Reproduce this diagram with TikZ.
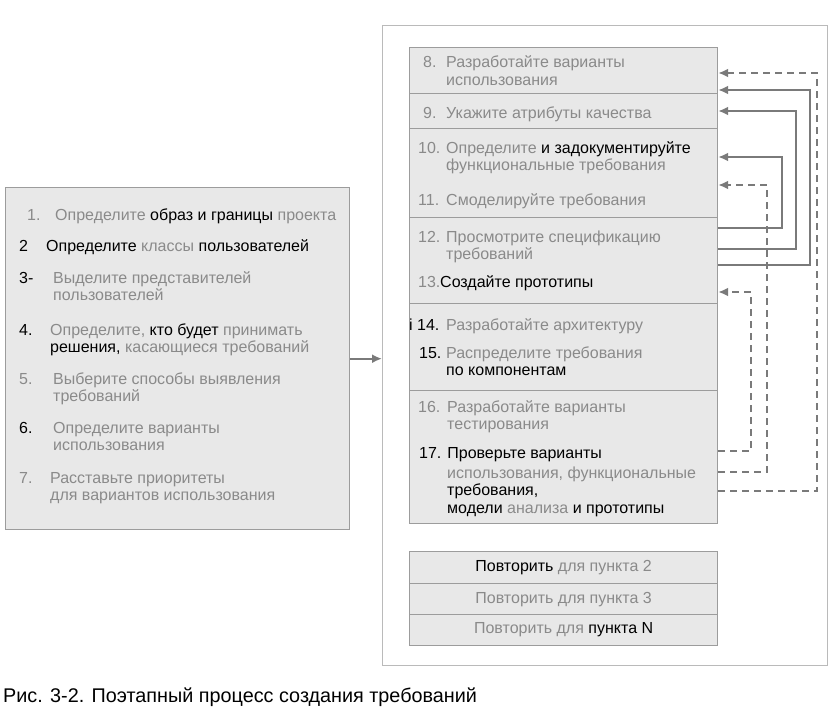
\documentclass[tikz,border=0pt]{standalone}
\usepackage{fontspec}
\setmainfont{Liberation Sans}
\usetikzlibrary{positioning, calc, arrows.meta}

\definecolor{scangray}{HTML}{8A8A8A}
\definecolor{boxline}{HTML}{9C9C9C}
\definecolor{boxfill}{HTML}{E8E8E8}
\definecolor{linkgray}{HTML}{7A7A7A}
\newcommand{\bk}[1]{{\color{black}#1}}

\begin{document}
\begin{tikzpicture}[
    x=1pt, y=-1pt,
    phase/.style={draw=boxline, line width=1.4pt, anchor=north west, inner sep=0pt},
    stepbox/.style={draw=boxline, line width=1.2pt, fill=boxfill, anchor=north west, minimum width=308pt, inner sep=0pt},
    num/.style={anchor=base west, inner sep=0pt, font=\fontsize{16}{17.5}\selectfont, text=scangray},
    txt/.style={num, align=left},
    back/.style={draw=linkgray, line width=2pt, -{Latex[length=10pt,width=9pt]}},
    backdash/.style={back, dash pattern=on 7pt off 5pt}
]
    \useasboundingbox (0,0) rectangle (838,717);

    % Phase boxes
    \node[phase, fill=boxfill, minimum width=344pt, minimum height=342pt] (phaseA) at (5,187) {};
    \node[phase, draw=boxline!70, fill=white, minimum width=445pt, minimum height=640pt] (phaseB) at (382,25) {};

    % Steps of the second phase
    \node[stepbox, minimum height=46pt] (s8) at (409,47) {};
    \node[stepbox, minimum height=35pt] (s9) at (409,93) {};
    \node[stepbox, minimum height=89pt] (s10) at (409,128) {};
    \node[stepbox, minimum height=86pt] (s12) at (409,217) {};
    \node[stepbox, minimum height=87pt] (s14) at (409,303) {};
    \node[stepbox, minimum height=133pt] (s16) at (409,390) {};

    % Repeat rows
    \node[stepbox, minimum height=32pt, font=\fontsize{16}{17.5}\selectfont, text=scangray] (rep2) at (409,551) {\bk{Повторить} для пункта 2};
    \node[stepbox, minimum height=31pt, font=\fontsize{16}{17.5}\selectfont, text=scangray] (rep3) at (409,583) {Повторить для пункта 3};
    \node[stepbox, minimum height=31pt, font=\fontsize{16}{17.5}\selectfont, text=scangray] (repN) at (409,614) {Повторить для \bk{пункта N}};

    % Items of the first phase (multi-line texts sit on their last baseline)
    \node[num] (n1) at (27,220) {1.};
    \node[txt] (t1) at (55,220) {Определите \bk{образ и границы} проекта};
    \node[num, text=black] (n2) at (19,251) {2};
    \node[txt] (t2) at (46,251) {\bk{Определите} классы \bk{пользователей}};
    \node[num, text=black] (n3) at (19,283) {3-};
    \node[txt] (t3) at (53,300.5) {Выделите представителей\\пользователей};
    \node[num, text=black] (n4) at (19,335) {4.};
    \node[txt] (t4) at (50,352.5) {Определите, \bk{кто будет} принимать\\\bk{решения,} касающиеся требований};
    \node[num] (n5) at (19,384) {5.};
    \node[txt] (t5) at (53,401.5) {Выберите способы выявления\\требований};
    \node[num, text=black] (n6) at (19,433) {6.};
    \node[txt] (t6) at (53,450.5) {Определите варианты\\использования};
    \node[num] (n7) at (19,483) {7.};
    \node[txt] (t7) at (50,500.5) {Расставьте приоритеты\\для вариантов использования};

    % Items of the second phase
    \node[num] (n8) at (423,68) {8.};
    \node[txt] (t8) at (446,85.5) {Разработайте варианты\\использования};
    \node[num] (n9) at (423,118) {9.};
    \node[txt] (t9) at (446,118) {Укажите атрибуты качества};
    \node[num] (n10) at (418,153) {10.};
    \node[txt] (t10) at (446,170.5) {Определите \bk{и задокументируйте}\\функциональные требования};
    \node[num] (n11) at (418,205) {11.};
    \node[txt] (t11) at (446,205) {Смоделируйте требования};
    \node[num] (n12) at (418,242) {12.};
    \node[txt] (t12) at (446,259.5) {Просмотрите спецификацию\\требований};
    \node[num] (n13) at (418,287) {13.};
    \node[txt, text=black] (t13) at (440,287) {Создайте прототипы};
    \node[num, text=black] (n14) at (409,330) {i 14.};
    \node[txt] (t14) at (446,330) {Разработайте архитектуру};
    \node[num, text=black] (n15) at (419,358) {15.};
    \node[txt] (t15) at (446,375.5) {Распределите требования\\\bk{по компонентам}};
    \node[num] (n16) at (418,412) {16.};
    \node[txt] (t16) at (447,429.5) {Разработайте варианты\\тестирования};
    \node[txt, text=black] (t17) at (419,458) {17. Проверьте варианты};
    \node[txt] (t17b) at (447,513) {использования, функциональные\\\bk{требования,}\\\bk{модели} анализа \bk{и прототипы}};

    % Caption
    \node[anchor=base west, inner sep=0pt, font=\fontsize{19.8}{22}\selectfont] (caption) at (3,702) {Рис. 3-2. Поэтапный процесс создания требований};

    % Connections
    \draw[back] (phaseA.east) -- (phaseB.west |- phaseA.east);

    \draw[back] (s12.east |- 0,265) -- (810,265) |- (s8.east |- 0,90);
    \draw[back] (s12.east |- 0,249) -- (796,249) |- (s9.east |- 0,111);
    \draw[back] (s12.east |- 0,228) -- (782,228) |- (s10.east |- 0,157);

    \draw[backdash] (s16.east |- 0,491) -- (817,491) |- (s8.east |- 0,73);
    \draw[backdash] (s16.east |- 0,472) -- (767,472) |- (s10.east |- 0,185);
    \draw[backdash] (s16.east |- 0,451) -- (751,451) |- (s12.east |- 0,292);
\end{tikzpicture}
\end{document}
